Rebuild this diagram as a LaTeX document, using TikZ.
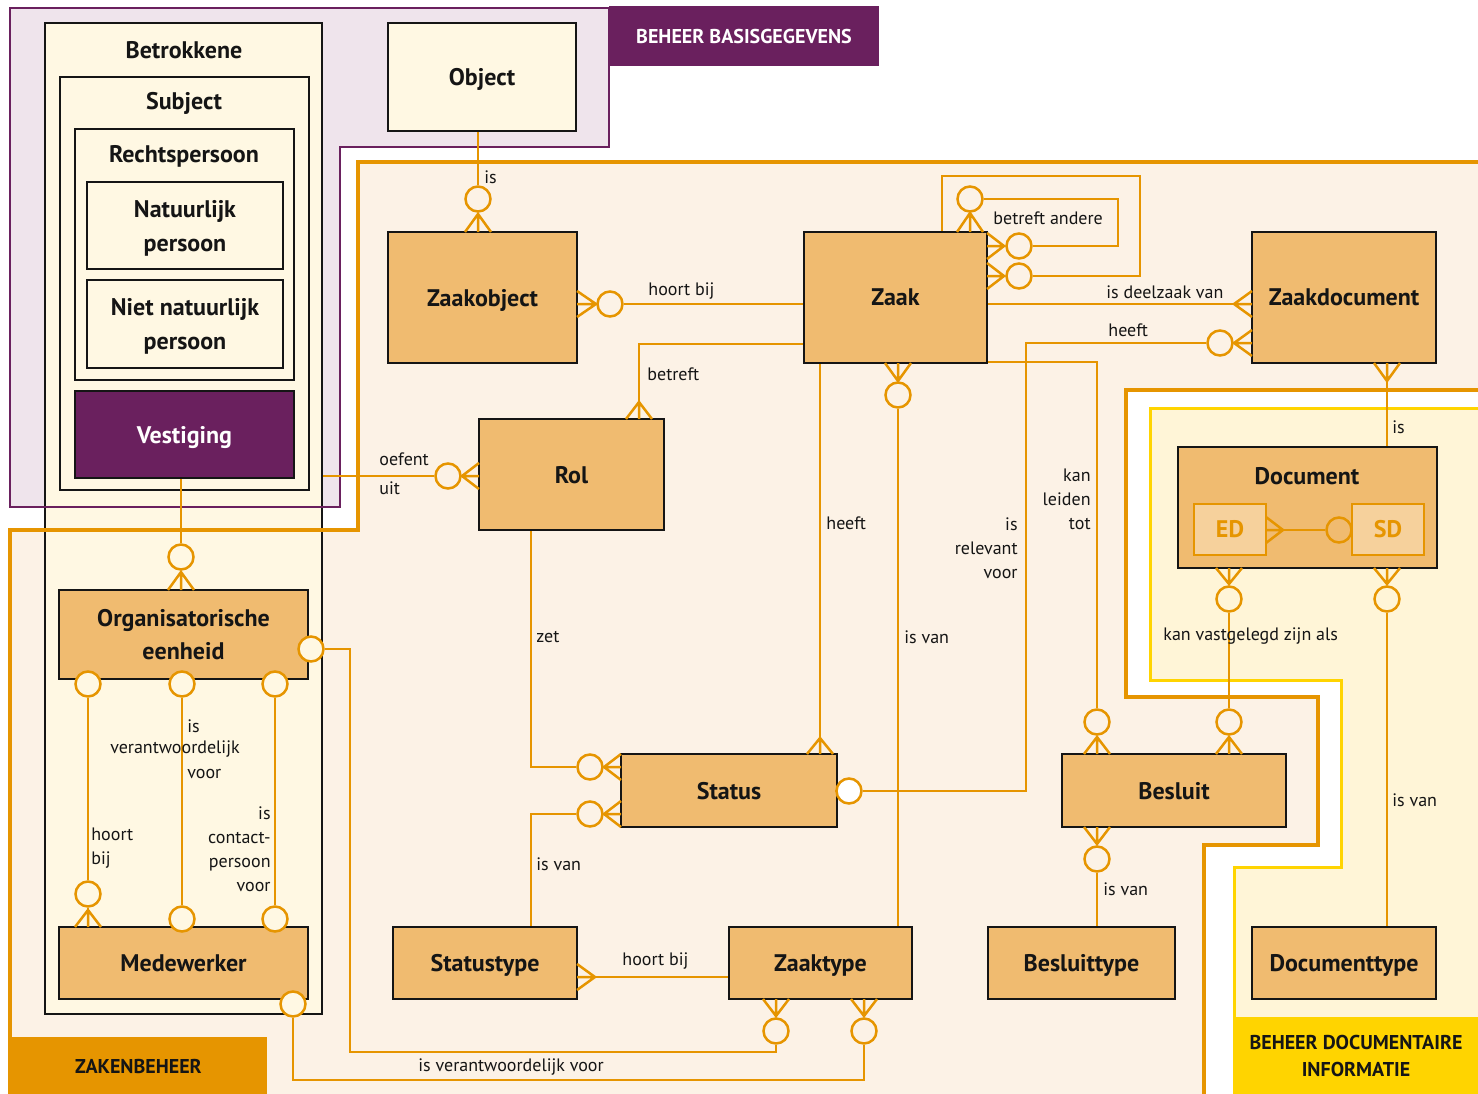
\documentclass[tikz,border=0pt]{standalone}
\usepackage{fontspec}
\setmainfont{PT Sans}
\usetikzlibrary{calc}

\definecolor{zorange}{HTML}{E69500}
\definecolor{zfill}{HTML}{F0BB70}
\definecolor{zpeach}{HTML}{FCF2E6}
\definecolor{zcream}{HTML}{FFF8E3}
\definecolor{zpurple}{HTML}{6A205E}
\definecolor{zlilac}{HTML}{EFE4EC}
\definecolor{zyellow}{HTML}{FFD400}
\definecolor{zlemon}{HTML}{FFF5D7}
\definecolor{zsub}{HTML}{F6D19C}
\definecolor{zink}{HTML}{151515}

\newcommand\entfont{\bfseries\fontsize{12}{17}\selectfont}
\newcommand\lblfont{\fontsize{9}{12}\selectfont}
\newcommand\tagfont{\bfseries\fontsize{10}{13.5}\selectfont}

% box given by its corners (x1,y1)-(x2,y2) in drawing units
\newcommand\ebox[7]{\node[#1, minimum width={(#5-#3)*0.5pt}, minimum height={(#6-#4)*0.5pt}] (#2) at ({(#3+#5)/2},{(#4+#6)/2}) {#7};}
% crow's foot on a horizontal edge: x, edge y, tip y
\newcommand\crowV[3]{\draw[link] ({#1-13},#2) -- (#1,#3) -- ({#1+13},#2) (#1,#2) -- (#1,#3);}
% crow's foot on a vertical edge: y, edge x, tip x
\newcommand\crowH[3]{\draw[link] (#2,{#1-13}) -- (#3,#1) -- (#2,{#1+13}) (#2,#1) -- (#3,#1);}

\begin{document}
\begin{tikzpicture}[x=0.5pt,y=-0.5pt,
  link/.style={draw=zorange, line width=1.25pt},
  ent/.style={draw=zink, line width=1.2pt, fill=zfill, font=\entfont, text=zink, align=center, inner sep=0pt, text depth=0pt},
  frame/.style={draw=zink, line width=1.2pt, fill=zcream, font=\entfont, text=zink, align=center, inner sep=0pt, text depth=0pt},
  vest/.style={draw=zink, line width=1.2pt, fill=zpurple, font=\entfont, text=white, align=center, inner sep=0pt, text depth=0pt},
  sub/.style={draw=zorange, line width=1.25pt, fill=zsub, font=\entfont, text=zorange, inner sep=0pt},
  title/.style={font=\entfont, text=zink, inner sep=0pt},
  ring/.style={circle, draw=zorange, line width=1.25pt, minimum size=12.5pt, inner sep=0pt, fill=zpeach},
  lbl/.style={font=\lblfont, text=zink, inner sep=0pt},
  tag/.style={font=\tagfont, align=center, inner sep=0pt, draw=none},
]
\useasboundingbox (0,0) rectangle (1478,1093);
\clip (0,0) rectangle (1478,1093);
\fill[white] (0,0) rectangle (1478,1093);

% ---- domain areas: fills
\fill[zlilac] (10,8) -- (609,8) -- (609,147) -- (340,147) -- (340,507) -- (10,507) -- cycle;
\fill[zpeach] (10,1100) -- (10,530) -- (358,530) -- (358,162) -- (1490,162) -- (1490,390)
  -- (1126,390) -- (1126,697) -- (1318,697) -- (1318,845) -- (1204,845) -- (1204,1100) -- cycle;
\fill[zlemon] (1490,408) -- (1150,408) -- (1150,680) -- (1341,680) -- (1341,867)
  -- (1234,867) -- (1234,1100) -- (1490,1100) -- cycle;

% ---- Betrokkene hierarchy and Object
\ebox{frame}{betrokkene}{45}{23}{322}{1014}{}
\ebox{frame}{subject}{60}{77}{309}{490}{}
\ebox{frame}{rechtspersoon}{75}{129}{294}{380}{}
\ebox{frame}{natpersoon}{87}{182}{283}{269}{Natuurlijk\\persoon}
\ebox{frame}{nnatpersoon}{87}{280}{283}{368}{Niet natuurlijk\\persoon}
\ebox{vest}{vestiging}{75}{391}{294}{478}{Vestiging}
\node[title] (betrokkene-t) at (184,50) {Betrokkene};
\node[title] (subject-t) at (184,103) {Subject};
\node[title] (rechtspersoon-t) at (184,156) {Rechtspersoon};
\ebox{frame}{object}{388}{23}{576}{131}{Object}

% ---- domain areas: borders
\draw[zpurple, line width=1.4pt] (10,8) -- (609,8) -- (609,147) -- (340,147) -- (340,507) -- (10,507) -- cycle;
\draw[zorange, line width=1.6pt] (10,1100) -- (10,530) -- (358,530) -- (358,162) -- (1490,162)
  (1490,390) -- (1126,390) -- (1126,697) -- (1318,697) -- (1318,845) -- (1204,845) -- (1204,1100);
\draw[zyellow, line width=1.5pt] (1490,408) -- (1150,408) -- (1150,680) -- (1341,680) -- (1341,867)
  -- (1234,867) -- (1234,1100);

% ---- domain tags
\ebox{tag, fill=zpurple, text=white}{tag-basis}{609}{6}{879}{66}{BEHEER BASISGEGEVENS}
\ebox{tag, fill=zorange, text=zink}{tag-zaken}{10}{1037}{267}{1095}{ZAKENBEHEER}
\ebox{tag, fill=zyellow, text=zink}{tag-doc}{1234}{1017}{1478}{1095}{BEHEER DOCUMENTAIRE\\INFORMATIE}

% ---- entities
\ebox{ent}{zaakobject}{388}{232}{577}{363}{Zaakobject}
\ebox{ent}{zaak}{804}{232}{987}{363}{Zaak}
\ebox{ent}{zaakdoc}{1252}{232}{1436}{363}{Zaakdocument}
\ebox{ent}{rol}{479}{419}{664}{530}{Rol}
\ebox{ent}{document}{1178}{447}{1437}{568}{}
\node[title] (document-t) at (1307,476) {Document};
\ebox{sub}{ed}{1194}{504}{1266}{555}{ED}
\ebox{sub}{sd}{1352}{504}{1424}{555}{SD}
\ebox{ent, font=\bfseries\fontsize{12}{16.5}\selectfont}{orgeenheid}{59}{590}{308}{679}{Organisatorische\\eenheid}
\ebox{ent}{medewerker}{59}{927}{308}{999}{Medewerker}
\ebox{ent}{status}{621}{754}{837}{827}{Status}
\ebox{ent}{besluit}{1062}{754}{1286}{827}{Besluit}
\ebox{ent}{statustype}{393}{927}{577}{999}{Statustype}
\ebox{ent}{zaaktype}{729}{927}{912}{999}{Zaaktype}
\ebox{ent}{besluittype}{988}{927}{1175}{999}{Besluittype}
\ebox{ent}{documenttype}{1252}{927}{1436}{999}{Documenttype}

% ---- optionality rings
\node[ring] (r1) at (478,199) {};
\node[ring] (r2) at (610,304) {};
\node[ring] (r3) at (970,199) {};
\node[ring] (r4) at (1019,246) {};
\node[ring] (r5) at (1019,276) {};
\node[ring] (r6) at (1220,343) {};
\node[ring] (r7) at (898,395) {};
\node[ring] (r8) at (448,476) {};
\node[ring, fill=zcream] (r9) at (181,557) {};
\node[ring, fill=zcream] (r10) at (88,684) {};
\node[ring, fill=zcream] (r11) at (182,684) {};
\node[ring, fill=zcream] (r12) at (275,684) {};
\node[ring, fill=zcream] (r13) at (311,649) {};
\node[ring, fill=zcream] (r14) at (88,894) {};
\node[ring, fill=zcream] (r15) at (182,919) {};
\node[ring, fill=zcream] (r16) at (275,919) {};
\node[ring, fill=zcream] (r17) at (293,1004) {};
\node[ring] (r18) at (590,767) {};
\node[ring] (r19) at (590,814) {};
\node[ring, fill=white] (r20) at (849,791) {};
\node[ring] (r21) at (1097,722) {};
\node[ring] (r22) at (1229,722) {};
\node[ring] (r23) at (1097,859) {};
\node[ring, fill=zlemon] (r24) at (1229,599) {};
\node[ring, fill=zlemon] (r25) at (1387,599) {};
\node[ring, fill=zfill] (r26) at (1339,530) {};
\node[ring] (r27) at (776,1031) {};
\node[ring] (r28) at (864,1031) {};

% ---- bend points
\coordinate (b1) at (639,344);
\coordinate (l1) at (1118,199);
\coordinate (l2) at (1118,246);
\coordinate (l3) at (942,176);
\coordinate (l4) at (1140,176);
\coordinate (l5) at (1140,276);
\coordinate (h1) at (1026,343);
\coordinate (h2) at (1026,791);
\coordinate (k1) at (1097,362);
\coordinate (s1) at (820,560);
\coordinate (v1) at (350,649);
\coordinate (v2) at (350,1052);
\coordinate (v3) at (776,1052);
\coordinate (w1) at (293,1080);
\coordinate (w2) at (864,1080);
\coordinate (z1) at (531,767);
\coordinate (z2) at (531,814);
\coordinate (t1) at (650,977);
\coordinate (q1) at (1387,420);

% ---- relationships
\draw[link] (object.south -| r1) -- (r1) (r1) -- (zaakobject.north -| r1);
\crowV{478}{232}{214}
\draw[link] (zaakobject.east |- r2) -- (r2) (r2) -- (zaak.west |- r2);
\crowH{304}{577}{596}
\draw[link] (zaak.west |- b1) -- (b1) -- (rol.north -| b1);
\crowV{639}{419}{402}
% Zaak to Zaak
\draw[link] (zaak.north -| r3) -- (r3) (r3) -- (l1) -- (l2) -- (r4) (r4) -- (zaak.east |- r4);
\crowV{970}{232}{213}
\crowH{246}{987}{1004}
\draw[link] (zaak.north -| l3) -- (l3) -- (l4) -- (l5) -- (r5) (r5) -- (zaak.east |- r5);
\crowH{276}{987}{1004}
% Zaak to Zaakdocument
\draw[link] (zaak.east |- r2) -- (zaakdoc.west |- r2);
\crowH{304}{1252}{1234}
\draw[link] (zaakdoc.west |- r6) -- (r6) (r6) -- (h1) -- (h2) -- (r20) (r20) -- (status.east |- r20);
\crowH{343}{1252}{1234}
% Zaak to Besluit, Status, Zaaktype
\draw[link] (zaak.east |- k1) -- (k1) -- (r21) (r21) -- (besluit.north -| r21);
\crowV{1097}{754}{737}
\draw[link] (zaak.south -| s1) -- (status.north -| s1);
\crowV{820}{754}{738}
\draw[link] (zaak.south -| r7) -- (r7) (r7) -- (zaaktype.north -| r7);
\crowV{898}{363}{381}
% Betrokkene to Rol
\draw[link] (betrokkene.east |- r8) -- (r8) (r8) -- (rol.west |- r8);
\crowH{476}{479}{462}
% Vestiging to Organisatorische eenheid
\draw[link] (vestiging.south -| r9) -- (r9) (r9) -- (orgeenheid.north -| r9);
\crowV{181}{590}{572}
% Organisatorische eenheid to Medewerker
\draw[link] (r10) -- (r14) (r14) -- (medewerker.north -| r14);
\crowV{88}{927}{910}
\draw[link] (r11) -- (r15);
\draw[link] (r12) -- (r16);
% responsibility for Zaaktype
\draw[link] (r13) -- (v1) -- (v2) -- (v3) -- (r27) (r27) -- (zaaktype.south -| r27);
\crowV{776}{999}{1016}
\draw[link] (r17) -- (w1) -- (w2) -- (r28) (r28) -- (zaaktype.south -| r28);
\crowV{864}{999}{1016}
% Rol, Statustype to Status
\draw[link] (rol.south -| z1) -- (z1) -- (r18) (r18) -- (status.west |- r18);
\crowH{767}{621}{604}
\draw[link] (statustype.north -| z2) -- (z2) -- (r19) (r19) -- (status.west |- r19);
\crowH{814}{621}{604}
\draw[link] (statustype.east |- t1) -- (zaaktype.west |- t1);
\crowH{977}{577}{595}
% Besluit to Besluittype
\draw[link] (besluit.south -| r23) -- (r23) (r23) -- (besluittype.north -| r23);
\crowV{1097}{827}{844}
% documents
\draw[link] (zaakdoc.south -| q1) -- (document.north -| q1);
\crowV{1387}{363}{381}
\draw[link] (document.south -| r24) -- (r24) (r24) -- (r22) (r22) -- (besluit.north -| r22);
\crowV{1229}{568}{584}
\crowV{1229}{754}{737}
\draw[link] (document.south -| r25) -- (r25) (r25) -- (documenttype.north -| r25);
\crowV{1387}{568}{584}
\draw[link] (ed.east |- r26) -- (r26) (r26) -- (sd.west |- r26);
\crowH{530}{1266}{1283}

% ---- relationship labels
\node[lbl, anchor=west] (lb-is1) at (484,177) {is};
\node[lbl, anchor=west] (lb-hoort1) at (648,291) {hoort bij};
\node[lbl, anchor=west] (lb-betreft) at (647,374) {betreft};
\node[lbl, anchor=west] (lb-andere) at (993,218) {betreft andere};
\node[lbl, anchor=west] (lb-deelzaak) at (1106,292) {is deelzaak van};
\node[lbl, anchor=west] (lb-heeft1) at (1108,330) {heeft};
\node[lbl, anchor=west] (lb-heeft2) at (826,523) {heeft};
\node[lbl, anchor=west] (lb-isvan1) at (904,637) {is van};
\node[lbl, anchor=east, align=right] (lb-relevant) at (1018,548) {is\\relevant\\voor};
\node[lbl, anchor=east, align=right] (lb-leiden) at (1091,499) {kan\\leiden\\tot};
\node[lbl, anchor=west] (lb-oefent) at (379,459) {oefent};
\node[lbl, anchor=west] (lb-uit) at (379,488) {uit};
\node[lbl, anchor=west] (lb-zet) at (536,637) {zet};
\node[lbl, anchor=west] (lb-isvan2) at (536,864) {is van};
\node[lbl, anchor=west] (lb-hoort2) at (622,961) {hoort bij};
\node[lbl, anchor=west] (lb-verantw1) at (418,1067) {is verantwoordelijk voor};
\node[lbl, anchor=west] (lb-isvan3) at (1103,889) {is van};
\node[lbl, anchor=west] (lb-is2) at (1392,427) {is};
\node[lbl, anchor=west] (lb-vastgelegd) at (1163,636) {kan vastgelegd zijn als};
\node[lbl, anchor=west] (lb-isvan4) at (1392,800) {is van};
\node[lbl, anchor=west, align=left] (lb-hoort3) at (91,848) {hoort\\bij};
\node[lbl, anchor=west] (lb-verantw2a) at (187,726) {is};
\node[lbl] (lb-verantw2b) at (175,749) {verantwoordelijk};
\node[lbl, anchor=west] (lb-verantw2c) at (187,774) {voor};
\node[lbl, anchor=east, align=right] (lb-contact) at (271,849) {is\\contact-\\persoon\\voor};
\end{tikzpicture}
\end{document}
